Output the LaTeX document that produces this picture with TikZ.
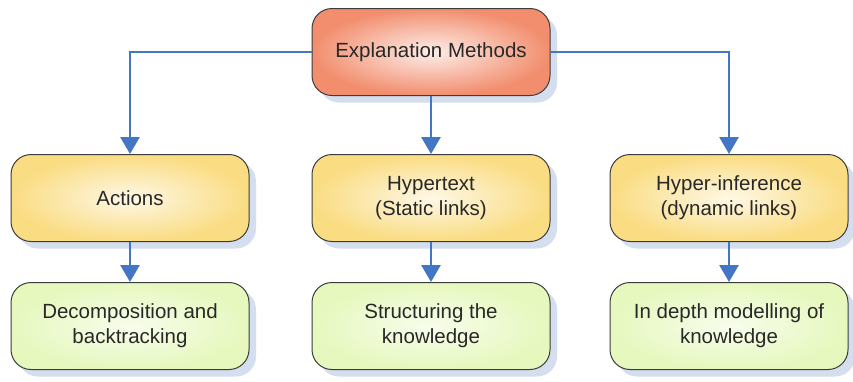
\documentclass[tikz,border=0pt]{standalone}
\usepackage{fontspec}
\setmainfont{Liberation Sans}
\usetikzlibrary{shadows,arrows.meta}
\definecolor{linkblue}{RGB}{68,118,198}
\definecolor{shadowc}{RGB}{212,222,238}
\definecolor{rootc}{RGB}{242,142,110}
\definecolor{midc}{RGB}{250,220,130}
\definecolor{leafc}{RGB}{230,248,190}
\definecolor{edgec}{RGB}{60,60,60}
\definecolor{textc}{RGB}{40,40,40}
\tikzset{
  box/.style={draw=edgec, line width=1pt, rounded corners=20pt, align=center,
    minimum width=238pt, minimum height=87pt, text=textc, font=\fontsize{20.5}{25}\selectfont,
    drop shadow={shadow xshift=7pt, shadow yshift=-7pt, fill=shadowc, opacity=1}},
  rootbox/.style={box, inner color=white!85!rootc, outer color=rootc},
  midbox/.style={box, inner color=white!80!midc, outer color=midc},
  leafbox/.style={box, inner color=white!70!leafc, outer color=leafc},
  link/.style={draw=linkblue, line width=2.8pt, -{Triangle[width=19pt,length=17pt]}}
}
\begin{document}
\begin{tikzpicture}[x=1pt,y=-1pt]
\useasboundingbox[fill=white] (0,0) rectangle (853,381);
\node[rootbox] (em) at (431,52) {Explanation Methods};
\node[midbox] (a1) at (130,198) {Actions};
\node[midbox] (a2) at (431,198) {Hypertext\\(Static links)};
\node[midbox] (a3) at (729,198) {Hyper-inference\\(dynamic links)};
\node[leafbox] (b1) at (130,326) {Decomposition and\\backtracking};
\node[leafbox] (b2) at (431,326) {Structuring the\\knowledge};
\node[leafbox] (b3) at (729,326) {In depth modelling of\\knowledge};
\draw[link] (em.west) -| (a1.north);
\draw[link] (em.south) -- (a2.north);
\draw[link] (em.east) -| (a3.north);
\draw[link] (a1.south) -- (b1.north);
\draw[link] (a2.south) -- (b2.north);
\draw[link] (a3.south) -- (b3.north);
\end{tikzpicture}
\end{document}
